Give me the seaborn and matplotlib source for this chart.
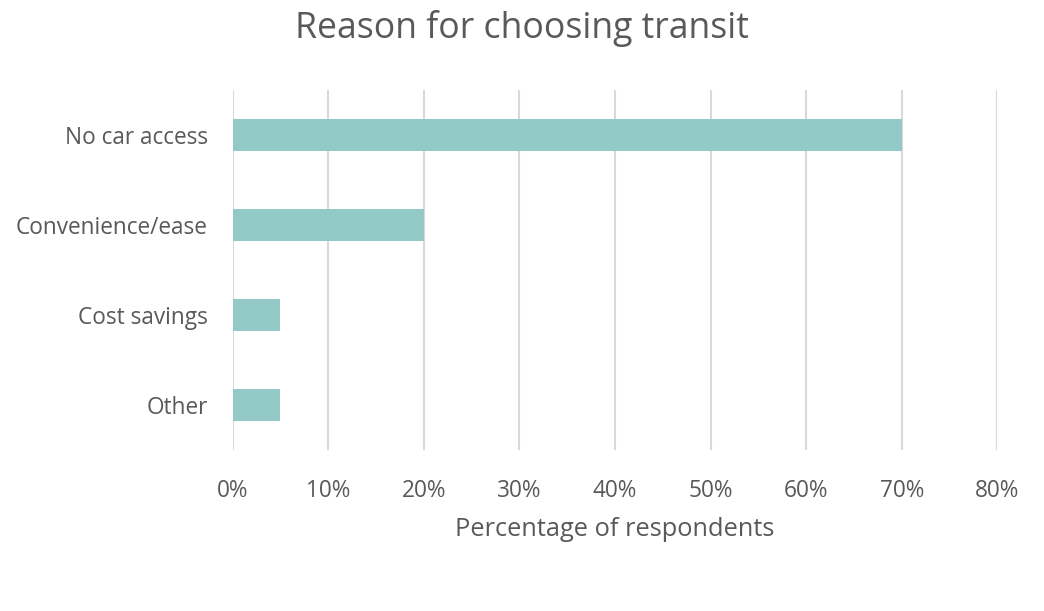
import matplotlib
matplotlib.use("Agg")
import matplotlib.pyplot as plt
import seaborn as sns
import pandas as pd
from matplotlib.ticker import PercentFormatter, MultipleLocator

reasons = ["No car access", "Convenience/ease", "Cost savings", "Other"]
shares = [70, 20, 5, 5]

df = pd.DataFrame({"reason": reasons, "share": shares})

sns.set_theme(style="white")
plt.rcParams["font.family"] = ["Open Sans", "DejaVu Sans"]

TEXT = "#595959"
BAR = "#93C9C6"
GRID = "#D9D9D9"

fig = plt.figure(figsize=(10.44, 6.11), dpi=100)
ax = fig.add_axes([0.2229, 0.2635, 0.7324, 0.59])

sns.barplot(data=df, x="share", y="reason", orient="h", color=BAR,
            width=0.355, saturation=1, linewidth=0, ax=ax, zorder=3)

ax.set_xlim(0, 80)
ax.xaxis.set_major_locator(MultipleLocator(10))
ax.xaxis.set_major_formatter(PercentFormatter(decimals=0))
ax.grid(axis="x", color=GRID, linewidth=1.5, zorder=0)
ax.set_axisbelow(True)
for s in ax.spines.values():
    s.set_visible(False)

ax.tick_params(axis="both", length=0, labelsize=16.3, labelcolor=TEXT)
ax.tick_params(axis="y", pad=18)
ax.tick_params(axis="x", pad=21)

ax.set_ylabel("")
ax.set_xlabel("Percentage of respondents", fontsize=18.3, color=TEXT, labelpad=10)

fig.text(0.5, 0.953, "Reason for choosing transit", ha="center", va="center",
         fontsize=25.7, color=TEXT)

fig.savefig("out.png", dpi=100, facecolor="white")
